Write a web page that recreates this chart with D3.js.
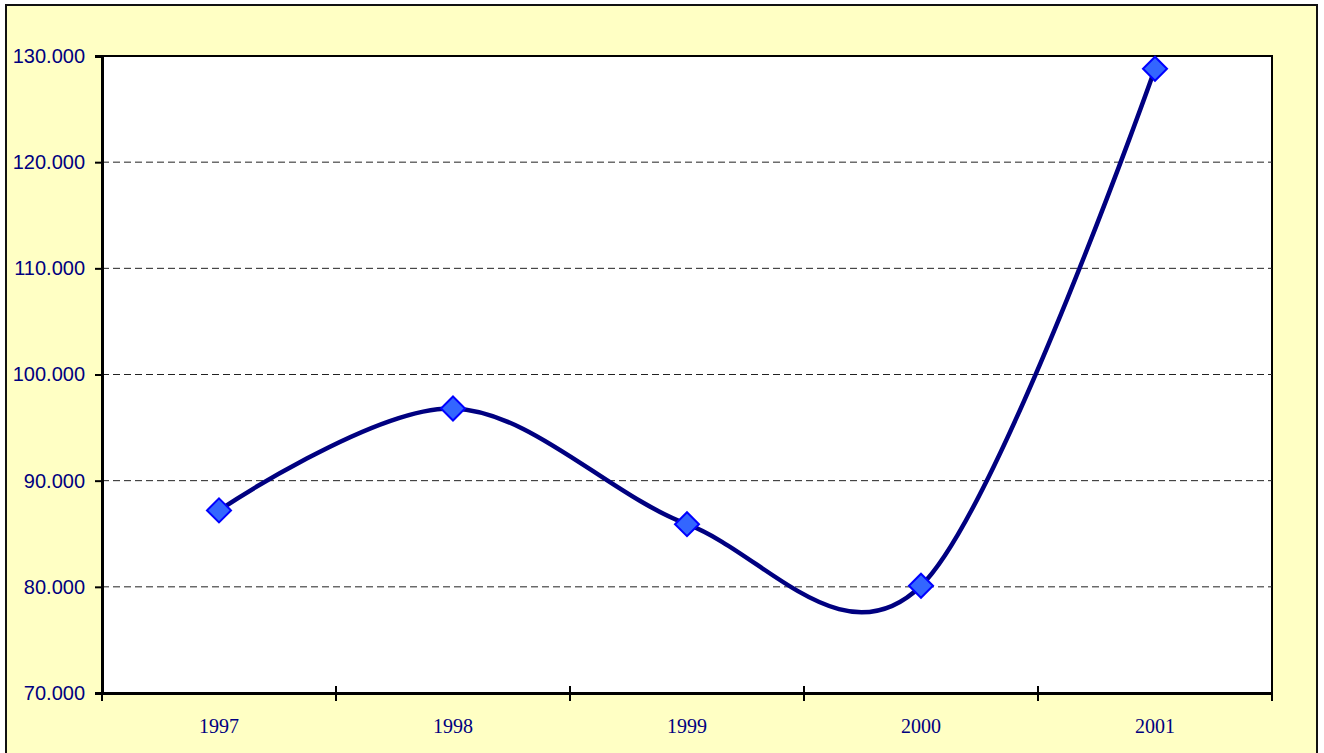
<!DOCTYPE html>
<html>
<head>
<meta charset="utf-8">
<script src="https://cdn.jsdelivr.net/npm/d3@7"></script>
<style>
  html, body { margin: 0; padding: 0; background: #ffffff; }
  svg { display: block; }
</style>
</head>
<body>
<svg id="chart" width="1324" height="753"></svg>
<script>
// Yearly series
const years = ["1997", "1998", "1999", "2000", "2001"];
const values = [87.2, 96.8, 85.9, 80.1, 128.8];
const yTicks = [70, 80, 90, 100, 110, 120, 130];

const svg = d3.select("#chart");
const H = 753;
const plot = { left: 102, top: 56, right: 1272, bottom: 693 };

// Chart background and frame
svg.append("rect")
  .attr("x", 6).attr("y", 5)
  .attr("width", 1311).attr("height", H + 10)
  .attr("fill", "#ffffc4")
  .attr("stroke", "#111").attr("stroke-width", 2);

// Plot area
svg.append("rect")
  .attr("x", plot.left).attr("y", plot.top)
  .attr("width", plot.right - plot.left).attr("height", plot.bottom - plot.top)
  .attr("fill", "#ffffff")
  .attr("stroke", "#000").attr("stroke-width", 2);

const x = d3.scaleBand().domain(years).range([plot.left, plot.right]).padding(0);
const y = d3.scaleLinear().domain([70, 130]).range([plot.bottom, plot.top]);

// Dashed gridlines
svg.append("g")
  .selectAll("line")
  .data(yTicks.filter(t => t > 70 && t < 130))
  .join("line")
  .attr("x1", plot.left).attr("x2", plot.right)
  .attr("y1", d => y(d)).attr("y2", d => y(d))
  .attr("stroke", "#222").attr("stroke-width", 1)
  .attr("stroke-dasharray", "7,4");

// Y axis: values in thousands, dot as decimal separator
const yAxis = svg.append("g")
  .attr("transform", `translate(${plot.left},0)`)
  .call(d3.axisLeft(y).tickValues(yTicks).tickSize(7).tickPadding(10)
    .tickFormat(d3.format(".3f")));
yAxis.select(".domain").attr("stroke", "#000").attr("stroke-width", 3);
yAxis.selectAll(".tick line").attr("stroke", "#000").attr("stroke-width", 2);
yAxis.selectAll(".tick text")
  .attr("font-family", "'Liberation Sans', Arial, sans-serif")
  .attr("font-size", 20)
  .attr("fill", "#000080");

// X axis with ticks at category boundaries
const xAxis = svg.append("g")
  .attr("transform", `translate(0,${plot.bottom})`)
  .call(d3.axisBottom(x).tickSize(0).tickPadding(26));
xAxis.select(".domain").attr("stroke", "#000").attr("stroke-width", 3);
xAxis.selectAll(".tick text")
  .attr("font-family", "'Liberation Serif', 'Times New Roman', serif")
  .attr("font-size", 20)
  .attr("fill", "#000080");
const bounds = years.map(d => x(d)).concat([x(years[years.length - 1]) + x.bandwidth()]);
xAxis.selectAll("line.bound")
  .data(bounds)
  .join("line")
  .attr("class", "bound")
  .attr("x1", d => d).attr("x2", d => d)
  .attr("y1", -7).attr("y2", 8)
  .attr("stroke", "#000").attr("stroke-width", 2);

// Smoothed series line
const pts = years.map((d, i) => [x(d) + x.bandwidth() / 2, y(values[i])]);
svg.append("path")
  .datum(pts)
  .attr("d", d3.line().curve(d3.curveCardinal.tension(0)))
  .attr("fill", "none")
  .attr("stroke", "#000080")
  .attr("stroke-width", 4.5)
  .attr("stroke-linejoin", "round");

// Diamond markers
svg.append("g")
  .selectAll("path")
  .data(pts)
  .join("path")
  .attr("transform", d => `translate(${d[0]},${d[1]})`)
  .attr("d", "M0,-12L12,0L0,12L-12,0Z")
  .attr("fill", "#3366ff")
  .attr("stroke", "#0000ff")
  .attr("stroke-width", 2);
</script>
</body>
</html>
